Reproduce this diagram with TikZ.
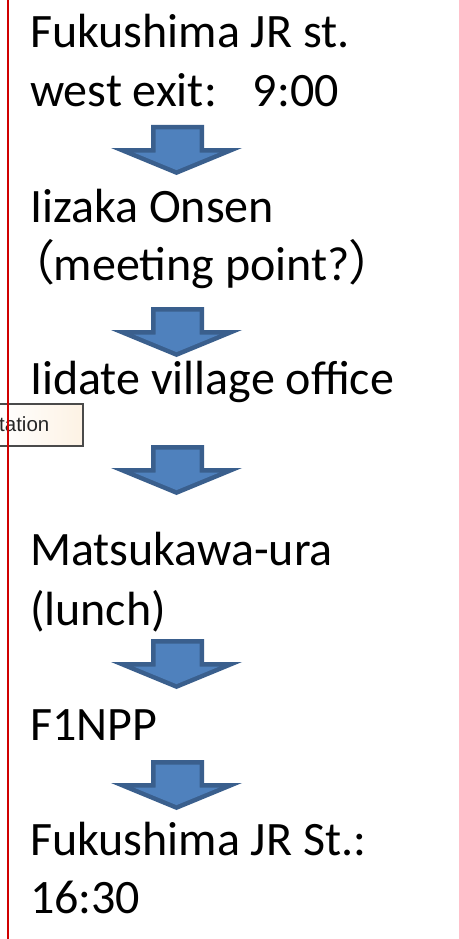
\documentclass[tikz,border=0pt]{standalone}
\usepackage{fontspec}
\setmainfont{Carlito}
\newfontfamily\cjkfont[RawFeature=+palt]{Noto Sans CJK JP}
\newfontfamily\tipfont{Liberation Sans}
\definecolor{arrowfill}{HTML}{4F81BD}
\definecolor{arrowline}{HTML}{3A5F8D}
\definecolor{redline}{HTML}{D00000}
\definecolor{tipborder}{HTML}{4A4A4A}
\definecolor{tipfill}{HTML}{FDF2E4}
\tikzset{
  lbl/.style={anchor=base west, inner sep=0pt, outer sep=0pt, font=\fontsize{48}{56}\selectfont},
  arrowouter/.style={fill=arrowline, draw=none},
  arrowinner/.style={fill=arrowfill, draw=none},
  tipbox/.style={draw=tipborder, line width=1.3pt, left color=white, right color=tipfill},
  tiptext/.style={anchor=base west, inner sep=0pt, font=\tipfont\fontsize{20.5}{24}\selectfont, text=black!85},
}
\newcommand\flowarrowat[1]{%
  \fill[arrowouter] (151,#1) -- (204,#1) -- (204,#1+23) -- (242,#1+23) -- (176.5,#1+50)
     -- (111,#1+23) -- (151,#1+23) -- cycle;
  \fill[arrowinner] (155.5,#1+4.5) -- (199.5,#1+4.5) -- (199.5,#1+27.5) -- (219.3,#1+27.5)
     -- (176.5,#1+45.1) -- (133.7,#1+27.5) -- (155.5,#1+27.5) -- cycle;}
\begin{document}
\begin{tikzpicture}[x=1pt, y=-1pt]
  \useasboundingbox (0,0) rectangle (458,939);
  \fill[white] (0,0) rectangle (458,939);

  \node[lbl] (t1) at (30,48) {Fukushima JR st.};
  \node[lbl] (t2) at (30,107) {west exit:\hskip 0.75em 9:00};
  \flowarrowat{125}
  \node[lbl] (t3) at (30,222) {Iizaka Onsen};
  \node[lbl] (t4) at (30,280) {{\cjkfont （}meeting point?{\cjkfont ）}};
  \flowarrowat{307}
  \node[lbl] (t5) at (30,394) {Iidate village office};

  \draw[tipbox] (-2,404) rectangle (83,446);
  \node[tiptext] (tip) at (-1,431) {tation};

  \flowarrowat{445}
  \node[lbl] (t6) at (30,565) {Matsukawa-ura};
  \node[lbl] (t7) at (30,625) {(lunch)};
  \flowarrowat{639}
  \node[lbl] (t8) at (30,740) {F1NPP};
  \flowarrowat{760}
  \node[lbl] (t9) at (30,855) {Fukushima JR St.:};
  \node[lbl] (t10) at (30,913) {16:30};

  \coordinate (rtop) at (8.3,0);
  \coordinate (rbot) at (8.3,939);
  \draw[redline, line width=2pt] (rtop) -- (rbot);
\end{tikzpicture}
\end{document}
